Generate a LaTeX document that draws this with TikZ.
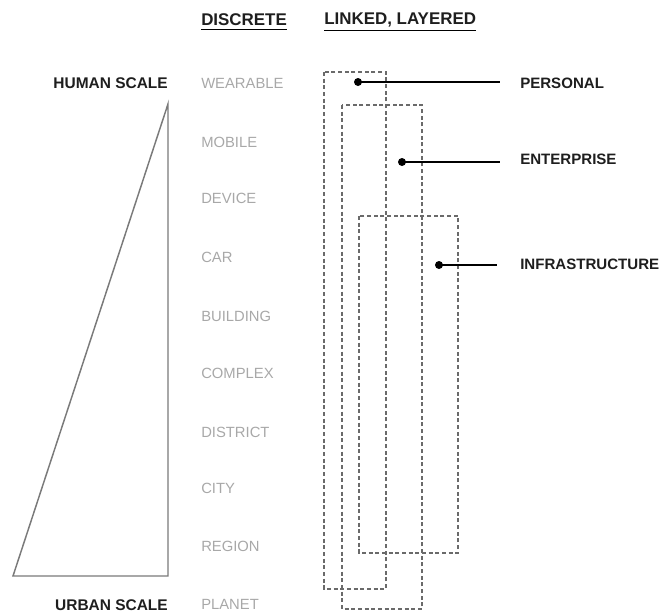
\documentclass[tikz,border=0pt]{standalone}
\usepackage{fontspec}
\setmainfont{Liberation Sans}
\definecolor{lightgray}{HTML}{A8A8A8}
\definecolor{boxgray}{HTML}{6A6A6A}
\definecolor{trigray}{HTML}{7A7A7A}
\definecolor{ink}{HTML}{1E1E1E}
\begin{document}
\begin{tikzpicture}[x=0.75pt,y=-0.75pt,
  hdr/.style={font=\bfseries\fontsize{12.7}{14}\selectfont, text=ink, anchor=west, inner sep=0pt},
  side/.style={font=\bfseries\fontsize{11.6}{13}\selectfont, text=ink, anchor=east, inner sep=0pt},
  item/.style={font=\fontsize{11.1}{13}\selectfont, text=lightgray, anchor=west, inner sep=0pt},
  lbl/.style={font=\bfseries\fontsize{11.3}{13}\selectfont, text=ink, anchor=west, inner sep=0pt},
  dbox/.style={draw=boxgray, densely dashed, line width=0.9pt},
  dotc/.style={circle, fill=black, inner sep=0pt, minimum size=6pt},
  lead/.style={line width=1.3pt}]
\useasboundingbox (0,0) rectangle (661,615);
% headers
\node[hdr] (hd) at (201,20) {DISCRETE};
\node[hdr] (hl) at (324,20) {LINKED, LAYERED};
\draw[line width=0.9pt] ([yshift=-2.5pt]hd.south west) -- ([yshift=-2.5pt]hd.south east);
\draw[line width=0.9pt] ([yshift=-2.5pt]hl.south west) -- ([yshift=-2.5pt]hl.south east);
% side labels
\node[side] (hs) at (168,83) {HUMAN SCALE};
\node[side] (us) at (168,605) {URBAN SCALE};
% triangle
\coordinate (t1) at (168,104);
\coordinate (t2) at (13,576);
\coordinate (t3) at (168,576);
\draw[trigray, line width=1.1pt, line join=miter] (t1) -- (t2) -- (t3) -- cycle;
% items
\node[item] (i1) at (201,83) {WEARABLE};
\node[item] (i2) at (201,142) {MOBILE};
\node[item] (i3) at (201,198) {DEVICE};
\node[item] (i4) at (201,257) {CAR};
\node[item] (i5) at (201,316) {BUILDING};
\node[item] (i6) at (201,373) {COMPLEX};
\node[item] (i7) at (201,432) {DISTRICT};
\node[item] (i8) at (201,488) {CITY};
\node[item] (i9) at (201,546) {REGION};
\node[item] (i10) at (201,604) {PLANET};
% dashed boxes
\draw[dbox] (324,72) rectangle (386,589);
\draw[dbox] (342,105) rectangle (422,609);
\draw[dbox] (359,216) rectangle (458,553);
% dots and leads
\node[dotc] (d1) at (358,82) {};
\node[dotc] (d2) at (402,162) {};
\node[dotc] (d3) at (439,265) {};
\coordinate (e1) at (500,82);
\coordinate (e2) at (500,162);
\coordinate (e3) at (497,265);
\draw[lead] (d1.center) -- (e1);
\draw[lead] (d2.center) -- (e2);
\draw[lead] (d3.center) -- (e3);
\node[lbl] (p) at (520,83) {PERSONAL};
\node[lbl] (en) at (520,159) {ENTERPRISE};
\node[lbl] (inf) at (520,264) {INFRASTRUCTURE};
\end{tikzpicture}
\end{document}
